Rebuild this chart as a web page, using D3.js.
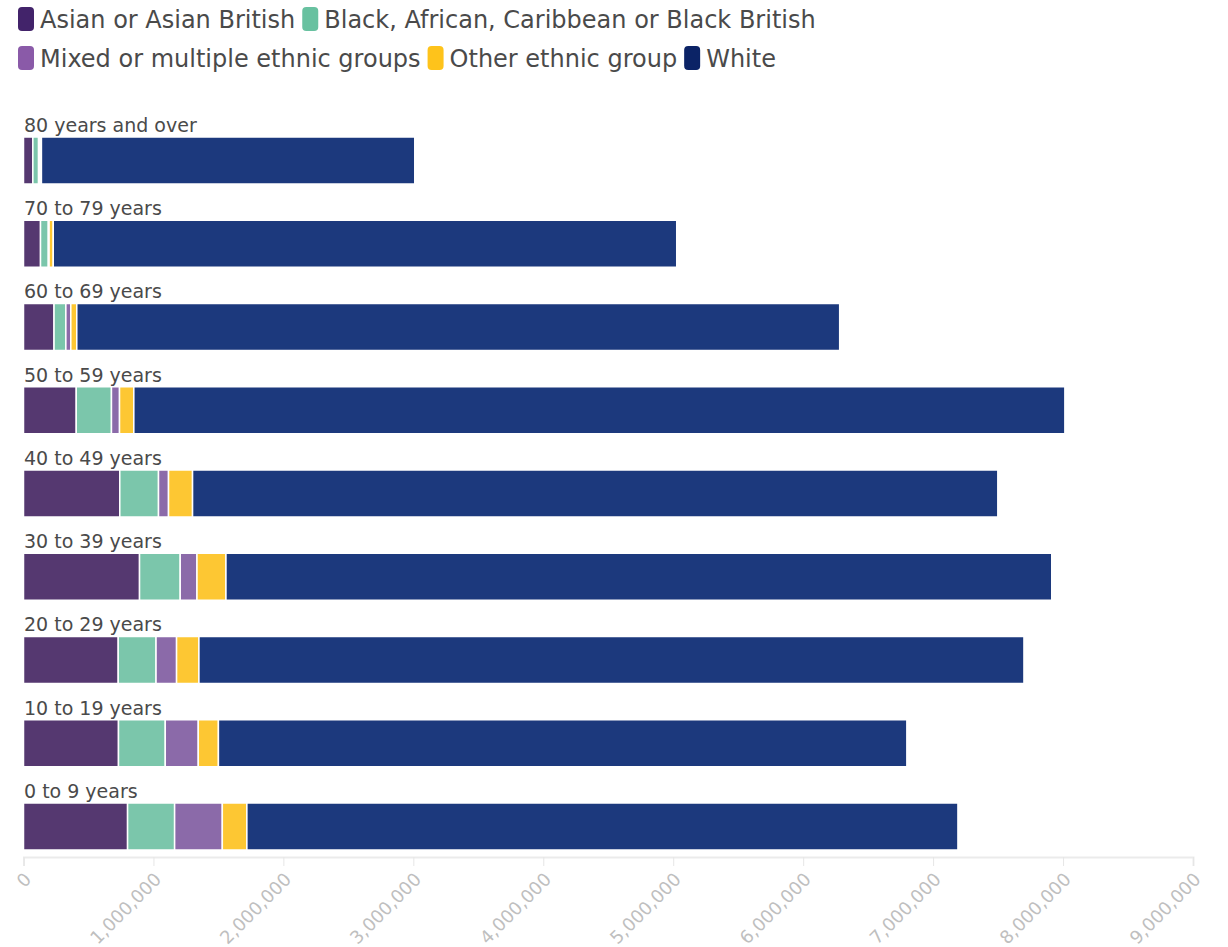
<!DOCTYPE html>
<html>
<head>
<meta charset="utf-8">
<script src="https://cdn.jsdelivr.net/npm/d3@7"></script>
<style>
  body { margin: 0; background: #fff; font-family: "DejaVu Sans", sans-serif; }
</style>
</head>
<body>
<div id="chart"></div>
<script>
// age bands, top to bottom
var ages = ["80 years and over", "70 to 79 years", "60 to 69 years", "50 to 59 years",
  "40 to 49 years", "30 to 39 years", "20 to 29 years", "10 to 19 years", "0 to 9 years"];

var groups = ["Asian or Asian British", "Black, African, Caribbean or Black British",
  "Mixed or multiple ethnic groups", "Other ethnic group", "White"];

// values per group, same order as ages
var asian = [72000, 131000, 235000, 406000, 741000, 893000, 729000, 731000, 801000];
var black = [44000, 60000, 91000, 271000, 298000, 313000, 291000, 360000, 362000];
var mixed = [11000, 6000, 38000, 62000, 77000, 129000, 158000, 254000, 367000];
var other = [11000, 32000, 46000, 110000, 185000, 223000, 172000, 155000, 189000];
var white = [2873000, 4798000, 5871000, 7165000, 6197000, 6355000, 6349000, 5298000, 5472000];

var xTicks = [0, 1000000, 2000000, 3000000, 4000000, 5000000, 6000000, 7000000, 8000000, 9000000];

var barColors = ["#553870", "#7bc6ab", "#8b6aa9", "#fdc733", "#1c397d"];
var legendColors = ["#42236a", "#68c1a0", "#8a5aa8", "#fec31b", "#0b2366"];

var W = 1228, H = 947;

var rows = ages.map(function(a, i) {
  return { age: a, "Asian or Asian British": asian[i],
    "Black, African, Caribbean or Black British": black[i],
    "Mixed or multiple ethnic groups": mixed[i],
    "Other ethnic group": other[i], "White": white[i] };
});

var svg = d3.select("#chart").append("svg")
  .attr("width", W).attr("height", H);

var x = d3.scaleLinear().domain([0, 9000000]).range([23.5, 1193]);
var y = d3.scaleBand().domain(ages).range([137, 850]).paddingInner(0.4354).paddingOuter(0);
var color = d3.scaleOrdinal().domain(groups).range(barColors);

var stack = d3.stack().keys(groups)(rows);

// x axis
var xAxis = svg.append("g")
  .attr("transform", "translate(0,857)")
  .call(d3.axisBottom(x).tickValues(xTicks).tickSize(9).tickFormat(d3.format(",")));
xAxis.select(".domain").attr("stroke", "#ebebeb").attr("stroke-width", 2);
xAxis.selectAll(".tick line").attr("stroke", "#e6e6e6");
xAxis.selectAll("text")
  .attr("fill", "#bfbfbf")
  .attr("x", 0).attr("y", 0)
  .attr("dy", "0.35em")
  .style("font-size", "18px")
  .style("font-family", "DejaVu Sans, sans-serif")
  .attr("text-anchor", "end")
  .attr("transform", "translate(4,19) rotate(-45)");

// bars
svg.selectAll(".series").data(stack).enter().append("g")
  .attr("class", "series")
  .attr("fill", function(d) { return color(d.key); })
  .selectAll("rect").data(function(d) { return d; }).enter().append("rect")
  .attr("x", function(d) { return x(d[0]); })
  .attr("y", function(d) { return y(d.data.age); })
  .attr("width", function(d) { return Math.max(0, x(d[1]) - x(d[0])); })
  .attr("height", y.bandwidth())
  .attr("stroke", "#fff")
  .attr("stroke-width", 1.5);

// age labels above bars
svg.selectAll(".age").data(ages).enter().append("text")
  .attr("x", 24)
  .attr("y", function(d) { return y(d) - 5; })
  .attr("fill", "#4a4a4a")
  .style("font-size", "19px")
  .text(function(d) { return d; });

// legend, two rows like the original
var legendRows = [[0, 1], [2, 3, 4]];
legendRows.forEach(function(row, r) {
  var lx = 18;
  var ly = 19 + r * 39;
  row.forEach(function(gi) {
    var g = svg.append("g").attr("transform", "translate(" + lx + "," + ly + ")");
    g.append("rect").attr("x", 0).attr("y", -12).attr("width", 16).attr("height", 24)
      .attr("rx", 4).attr("fill", legendColors[gi]);
    var t = g.append("text").attr("x", 22).attr("y", 0).attr("dy", "0.36em")
      .attr("fill", "#4a4a4a").style("font-size", "24px").text(groups[gi]);
    lx += 22 + t.node().getComputedTextLength() + 7;
  });
});
</script>
</body>
</html>
